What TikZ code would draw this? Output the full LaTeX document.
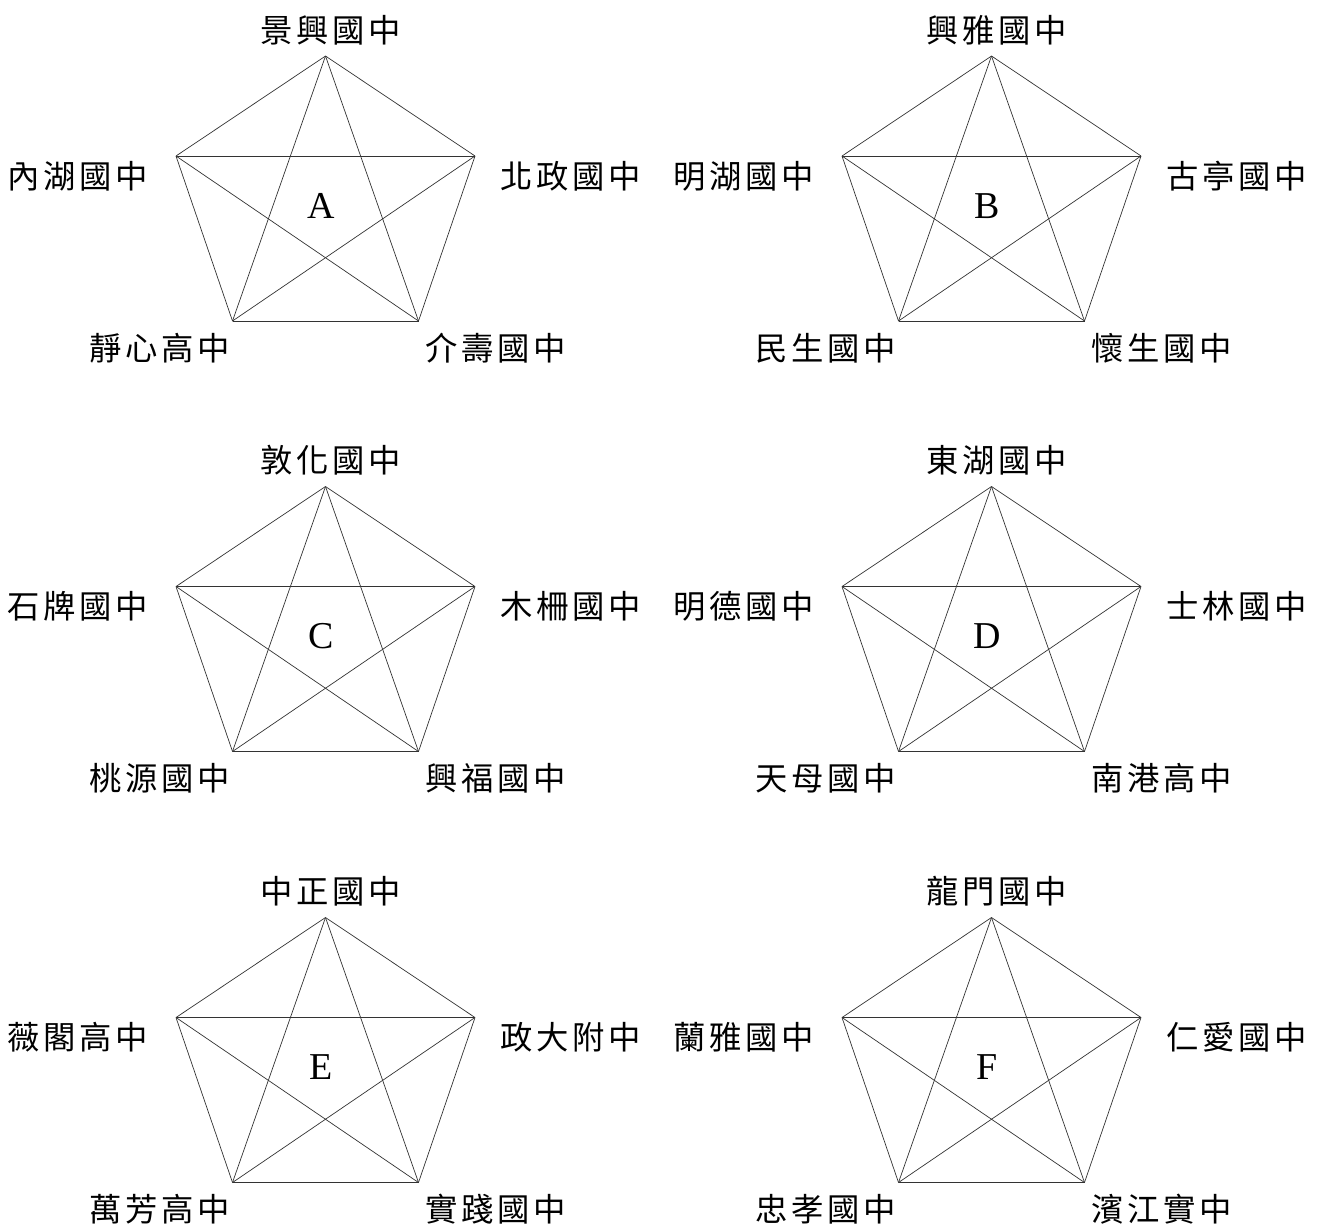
\documentclass[tikz,border=0pt]{standalone}
\usepackage{fontspec}
\setmainfont{Liberation Serif}
\newfontfamily\cjk[LetterSpace=11]{Noto Sans CJK TC}
\usetikzlibrary{math}

\begin{document}
\begin{tikzpicture}[x=0.025cm,y=-0.025cm,line width=0.5pt,
  edge/.style={draw=black!80},
  school/.style={font=\cjk\fontsize{23}{27}\selectfont,inner sep=0pt},
  group/.style={font=\fontsize{27}{30}\selectfont,inner sep=0pt}]

  \tikzmath{
    \hw = 149.5; % half width at the side corners
    \hs = 100;   % drop from the top to the side corners
    \bw = 93;    % half width at the bottom corners
    \hb = 265;   % drop from the top to the bottom corners
  }

  \useasboundingbox (0,0) rectangle (1322,1225);

  \foreach \cx/\ty/\g/\nt/\nl/\nr/\nbl/\nbr in {
      325.5/56/A/景興國中/內湖國中/北政國中/靜心高中/介壽國中,
      991.5/56/B/興雅國中/明湖國中/古亭國中/民生國中/懷生國中,
      325.5/486.5/C/敦化國中/石牌國中/木柵國中/桃源國中/興福國中,
      991.5/486.5/D/東湖國中/明德國中/士林國中/天母國中/南港高中,
      325.5/917.5/E/中正國中/薇閣高中/政大附中/萬芳高中/實踐國中,
      991.5/917.5/F/龍門國中/蘭雅國中/仁愛國中/忠孝國中/濱江實中}{

    % corners of the pentagon
    \coordinate (\g-t)  at (\cx, \ty);
    \coordinate (\g-l)  at (\cx-\hw, \ty+\hs);
    \coordinate (\g-r)  at (\cx+\hw, \ty+\hs);
    \coordinate (\g-bl) at (\cx-\bw, \ty+\hb);
    \coordinate (\g-br) at (\cx+\bw, \ty+\hb);

    % sides and diagonals
    \foreach \a/\b in {t/l,t/r,t/bl,t/br,l/r,l/bl,l/br,r/bl,r/br,bl/br}
      \draw[edge] (\g-\a) -- (\g-\b);

    % schools at the corners
    \node[school] (\g-nt)  at (\cx+5, \ty-26)       {\nt};
    \node[school] (\g-nl)  at (\cx-\hw-98, \ty+\hs+20) {\nl};
    \node[school] (\g-nr)  at (\cx+\hw+96, \ty+\hs+20) {\nr};
    \node[school] (\g-nbl) at (\cx-\bw-73, \ty+\hb+27) {\nbl};
    \node[school] (\g-nbr) at (\cx+\bw+77, \ty+\hb+27) {\nbr};

    % group letter
    \node[group] (\g-name) at (\cx-4, \ty+150) {\g};
  }

\end{tikzpicture}
\end{document}
